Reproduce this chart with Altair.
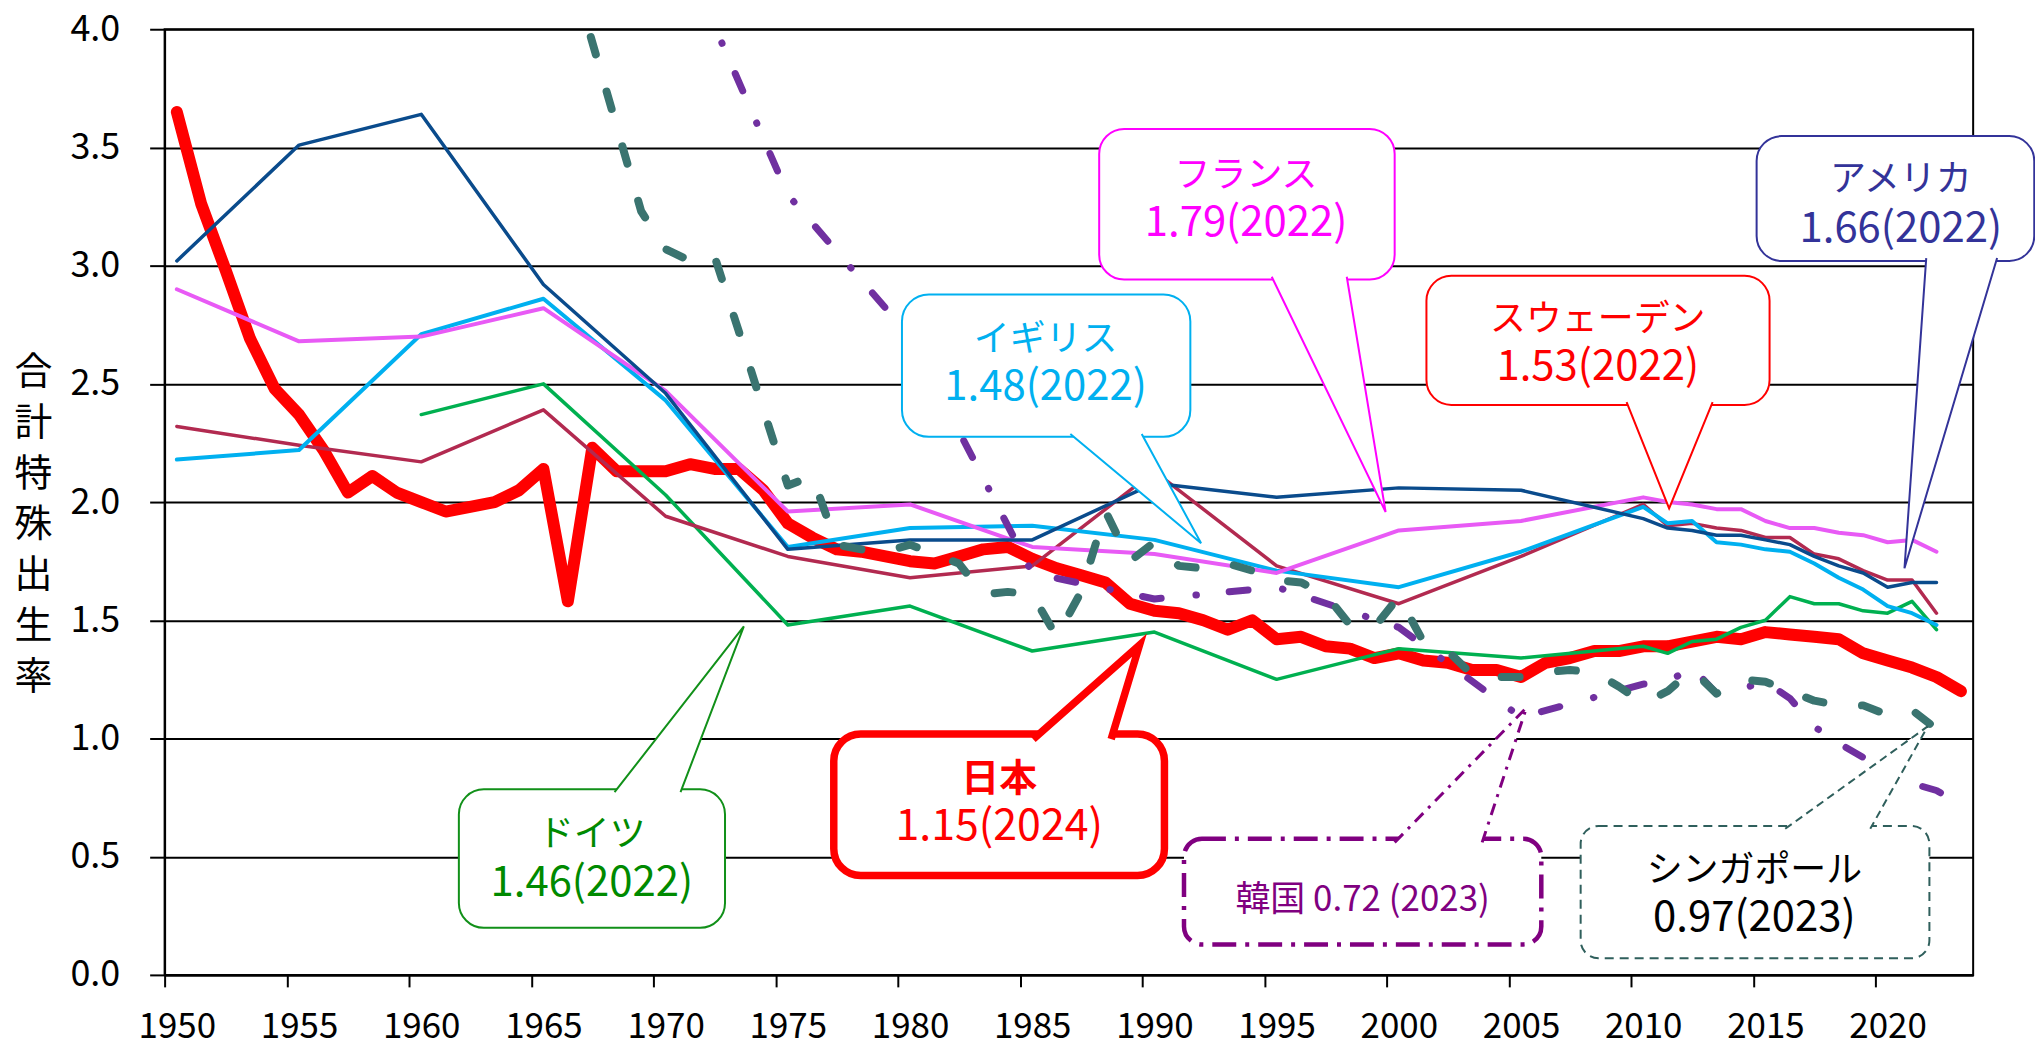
import altair as alt
import pandas as pd

FONT = "Noto Sans CJK JP"

# ---------------- data (total fertility rate) ----------------
jp_years = list(range(1950, 2024))
jp_tfr = [3.65, 3.26, 2.98, 2.69, 2.48, 2.37, 2.22, 2.04, 2.11, 2.04,
          2.00, 1.96, 1.98, 2.00, 2.05, 2.14, 1.58, 2.23, 2.13, 2.13,
          2.13, 2.16, 2.14, 2.14, 2.05, 1.91, 1.85, 1.80, 1.79, 1.77,
          1.75, 1.74, 1.77, 1.80, 1.81, 1.76, 1.72, 1.69, 1.66, 1.57,
          1.54, 1.53, 1.50, 1.46, 1.50, 1.42, 1.43, 1.39, 1.38, 1.34,
          1.36, 1.33, 1.32, 1.29, 1.29, 1.26, 1.32, 1.34, 1.37, 1.37,
          1.39, 1.39, 1.41, 1.43, 1.42, 1.45, 1.44, 1.43, 1.42, 1.36,
          1.33, 1.30, 1.26, 1.20]

west_years = [1950, 1955, 1960, 1965, 1970, 1975, 1980, 1985, 1990, 1995, 2000, 2005,
              2010, 2011, 2012, 2013, 2014, 2015, 2016, 2017, 2018, 2019, 2020, 2021, 2022]
us_tfr = [3.02, 3.51, 3.64, 2.92, 2.46, 1.80, 1.84, 1.84, 2.08, 2.02, 2.06, 2.05,
          1.93, 1.89, 1.88, 1.86, 1.86, 1.84, 1.82, 1.77, 1.73, 1.70, 1.64, 1.66, 1.66]
fr_tfr = [2.90, 2.68, 2.70, 2.82, 2.47, 1.96, 1.99, 1.81, 1.78, 1.70, 1.88, 1.92,
          2.02, 2.00, 1.99, 1.97, 1.97, 1.92, 1.89, 1.89, 1.87, 1.86, 1.83, 1.84, 1.79]
uk_tfr = [2.18, 2.22, 2.71, 2.86, 2.43, 1.81, 1.89, 1.90, 1.84, 1.71, 1.64, 1.79,
          1.98, 1.91, 1.92, 1.83, 1.82, 1.80, 1.79, 1.74, 1.68, 1.63, 1.56, 1.53, 1.48]
se_tfr = [2.32, 2.24, 2.17, 2.39, 1.94, 1.77, 1.68, 1.73, 2.13, 1.73, 1.57, 1.77,
          1.99, 1.90, 1.91, 1.89, 1.88, 1.85, 1.85, 1.78, 1.76, 1.71, 1.67, 1.67, 1.53]

de_years = [1960, 1965, 1970, 1975, 1980, 1985, 1990, 1995, 2000, 2005,
            2010, 2011, 2012, 2013, 2014, 2015, 2016, 2017, 2018, 2019, 2020, 2021, 2022]
de_tfr = [2.37, 2.50, 2.03, 1.48, 1.56, 1.37, 1.45, 1.25, 1.38, 1.34,
          1.39, 1.36, 1.41, 1.42, 1.47, 1.50, 1.60, 1.57, 1.57, 1.54, 1.53, 1.58, 1.46]

kr_years = [1970, 1975, 1980, 1985, 1990, 1995, 2000, 2005,
            2010, 2011, 2012, 2013, 2014, 2015, 2016, 2017, 2018, 2019, 2020, 2021, 2022, 2023]
kr_tfr = [4.49, 3.30, 2.70, 1.70, 1.59, 1.64, 1.47, 1.09,
          1.23, 1.24, 1.30, 1.19, 1.21, 1.24, 1.17, 1.05, 0.98, 0.92, 0.84, 0.81, 0.78, 0.72]

sg_years = [1965, 1969] + list(range(1970, 2023))
sg_tfr = [4.66, 3.23,
          3.07, 3.02, 3.04, 2.72, 2.39, 2.07, 2.11, 1.82, 1.80, 1.79,
          1.82, 1.78, 1.74, 1.61, 1.62, 1.61, 1.43, 1.62, 1.96, 1.75,
          1.83, 1.73, 1.72, 1.74, 1.71, 1.67, 1.66, 1.61, 1.48, 1.47,
          1.60, 1.41, 1.37, 1.27, 1.26, 1.26, 1.28, 1.29, 1.28, 1.22,
          1.15, 1.20, 1.29, 1.19, 1.25, 1.24, 1.20, 1.16, 1.14, 1.14,
          1.10, 1.12, 1.04]

y_ticks = [0, 0.5, 1.0, 1.5, 2.0, 2.5, 3.0, 3.5, 4.0]
y_title = ["合", "計", "特", "殊", "出", "生", "率"]

# ---------------- styles ----------------
series = [
    (jp_years, jp_tfr, "#FF0000", 12, None),
    (de_years, de_tfr, "#00B050", 3.5, None),
    (west_years, se_tfr, "#B22A50", 3.5, None),
    (west_years, uk_tfr, "#00B0F0", 4, None),
    (west_years, fr_tfr, "#E85AF5", 4, None),
    (west_years, us_tfr, "#0A4B8C", 3.5, None),
    (kr_years, kr_tfr, "#7030A0", 7, [19, 35, 0.5, 33]),
    (sg_years, sg_tfr, "#3A7470", 8, [18, 39]),
]

# callout bubbles (positions in data units: year, TFR)
bubbles = [
    dict(x1=1987.74, x2=1999.83, y1=2.941, y2=3.578, side="bottom", b1=1994.80, b2=1997.87,
         tx=1999.46, ty=1.958, color="#FF00FF", sw=2, dash=None, tw=2, tdash=None, r=25, inset=0.012,
         texts=[("フランス", 1993.75, 3.392, 36, "normal", "#FF00FF"),
                ("1.79(2022)", 1993.75, 3.194, 42, "normal", "#FF00FF")]),
    dict(x1=1979.67, x2=1991.47, y1=2.276, y2=2.878, side="bottom", b1=1986.56, b2=1989.48,
         tx=1991.91, ty=1.826, color="#00B0F0", sw=2, dash=None, tw=2, tdash=None, r=27, inset=0.012,
         texts=[("イギリス", 1985.55, 2.696, 36, "normal", "#00B0F0"),
                ("1.48(2022)", 1985.55, 2.498, 42, "normal", "#00B0F0")]),
    dict(x1=2001.13, x2=2015.17, y1=2.411, y2=2.957, side="bottom", b1=2009.32, b2=2012.84,
         tx=2011.06, ty=1.973, color="#FF0000", sw=2, dash=None, tw=2, tdash=None, r=25, inset=0.012,
         texts=[("スウェーデン", 2008.14, 2.782, 36, "normal", "#FF0000"),
                ("1.53(2022)", 2008.14, 2.582, 42, "normal", "#FF0000")]),
    dict(x1=2014.64, x2=2026.0, y1=3.020, y2=3.548, side="bottom", b1=2021.58, b2=2024.48,
         tx=2020.69, ty=1.720, color="#333399", sw=2, dash=None, tw=2, tdash=None, r=25, inset=0.012,
         texts=[("アメリカ", 2020.54, 3.373, 36, "normal", "#333399"),
                ("1.66(2022)", 2020.54, 3.169, 42, "normal", "#333399")]),
    dict(x1=1961.54, x2=1972.43, y1=0.199, y2=0.785, side="top", b1=1967.91, b2=1970.61,
         tx=1973.20, ty=1.474, color="#119019", sw=2, dash=None, tw=2, tdash=None, r=25, inset=0.012,
         texts=[("ドイツ", 1966.98, 0.605, 36, "normal", "#008A00"),
                ("1.46(2022)", 1966.98, 0.402, 42, "normal", "#008A00")]),
    dict(x1=1976.88, x2=1990.41, y1=0.420, y2=1.019, side="top", b1=1985.04, b2=1988.23,
         tx=1989.39, ty=1.395, color="#FF0000", sw=7.5, dash=None, tw=7.5, tdash=None, r=27, inset=0.022,
         texts=[("日本", 1983.65, 0.838, 38, "bold", "#FF0000"),
                ("1.15(2024)", 1983.65, 0.638, 43, "normal", "#FF0000")]),
    dict(x1=1991.21, x2=2005.83, y1=0.129, y2=0.5755, side="top", b1=1999.83, b2=2003.41,
         tx=2005.22, ty=1.130, color="#800080", sw=4.5, dash=[24, 9, 4, 9], tw=3, tdash=[12, 7, 3, 7],
         r=18, inset=0.015,
         texts=[("韓国 0.72 (2023)", 1998.52, 0.329, 35, "normal", "#800080")]),
    dict(x1=2007.44, x2=2021.71, y1=0.070, y2=0.630, side="top", b1=2015.81, b2=2019.29,
         tx=2021.64, ty=1.051, color="#2F5F5C", sw=2, dash=[9, 6], tw=2, tdash=[8, 5], r=18, inset=0.012,
         texts=[("シンガポール", 2014.55, 0.454, 36, "normal", "#000000"),
                ("0.97(2023)", 2014.55, 0.254, 42, "normal", "#000000")]),
]

# ---------------- scales & axes ----------------
x_scale = alt.Scale(domain=[1949.5, 2023.5], nice=False, zero=False)
y_scale = alt.Scale(domain=[0, 4], nice=False, zero=False)

x_axis = alt.Axis(
    values=[1949.5 + 5 * k for k in range(15)],
    labelExpr="format(datum.value + 0.5, 'd')",
    labelOffset=12.25, labelFontSize=35, labelFont=FONT, labelColor="black",
    labelPadding=23, labelFlush=False, labelOverlap=False,
    tickSize=12, tickWidth=2, tickColor="black",
    domainColor="black", domainWidth=2, grid=False, title=None)

y_axis = alt.Axis(
    values=y_ticks, format=".1f",
    labelFontSize=36, labelFont=FONT, labelColor="black", labelPadding=30,
    labelFlush=False, labelOverlap=False,
    tickSize=15, tickWidth=2, tickColor="black",
    domainColor="black", domainWidth=2,
    grid=True, gridColor="black", gridWidth=2, gridOpacity=1,
    title=y_title, titleAngle=0, titleFont=FONT, titleFontSize=38,
    titleFontWeight="normal", titleColor="black", titleLineHeight=51,
    titleAlign="center", titleBaseline="top", titleX=-132, titleY=325)


def X(field):
    return alt.X(field, type="quantitative", scale=x_scale, axis=x_axis)


def Y(field):
    return alt.Y(field, type="quantitative", scale=y_scale, axis=y_axis)


layers = []
for yrs, vals, col, w, dash in series:
    df = pd.DataFrame({"year": yrs, "tfr": vals})
    props = dict(color=col, strokeWidth=w, clip=True, strokeCap="round", strokeJoin="round")
    if dash is not None:
        props["strokeDash"] = dash
    layers.append(alt.Chart(df).mark_line(**props).encode(x=X("year"), y=Y("tfr")))

for b in bubbles:
    box = pd.DataFrame({"x1": [b["x1"]], "x2": [b["x2"]], "y1": [b["y1"]], "y2": [b["y2"]]})
    rp = dict(fill="white", stroke=b["color"], strokeWidth=b["sw"], cornerRadius=b["r"])
    if b["dash"]:
        rp["strokeDash"] = b["dash"]
    layers.append(
        alt.Chart(box).mark_rect(**rp).encode(
            x=X("x1"), x2=alt.X2("x2"), y=Y("y1"), y2=alt.Y2("y2"))
    )
    base_y = b["y1"] + b["inset"] if b["side"] == "bottom" else b["y2"] - b["inset"]
    tail = pd.DataFrame({"x": [b["b1"], b["tx"], b["b2"]],
                         "y": [base_y, b["ty"], base_y], "k": [0, 1, 2]})
    tp = dict(fill="white", stroke=b["color"], strokeWidth=b["tw"], strokeJoin="miter", strokeCap="butt")
    if b["tdash"]:
        tp["strokeDash"] = b["tdash"]
    layers.append(
        alt.Chart(tail).mark_line(**tp).encode(x=X("x"), y=Y("y"), order="k:Q")
    )
    for (txt, tx, ty, size, weight, tcol) in b["texts"]:
        tdf = pd.DataFrame({"x": [tx], "y": [ty], "t": [txt]})
        layers.append(
            alt.Chart(tdf).mark_text(font=FONT, fontSize=size, fontWeight=weight, color=tcol,
                                     align="center", baseline="middle", dy=3).encode(
                x=X("x"), y=Y("y"), text="t:N")
        )

chart = alt.layer(*layers).properties(
    width=1813, height=948,
    padding={"left": 157, "top": 20, "right": 62, "bottom": 72},
    autosize=alt.AutoSizeParams(type="none"),
).configure_view(stroke="black", strokeWidth=2)

chart.save("out.html", embed_options={"renderer": "svg", "actions": False})
